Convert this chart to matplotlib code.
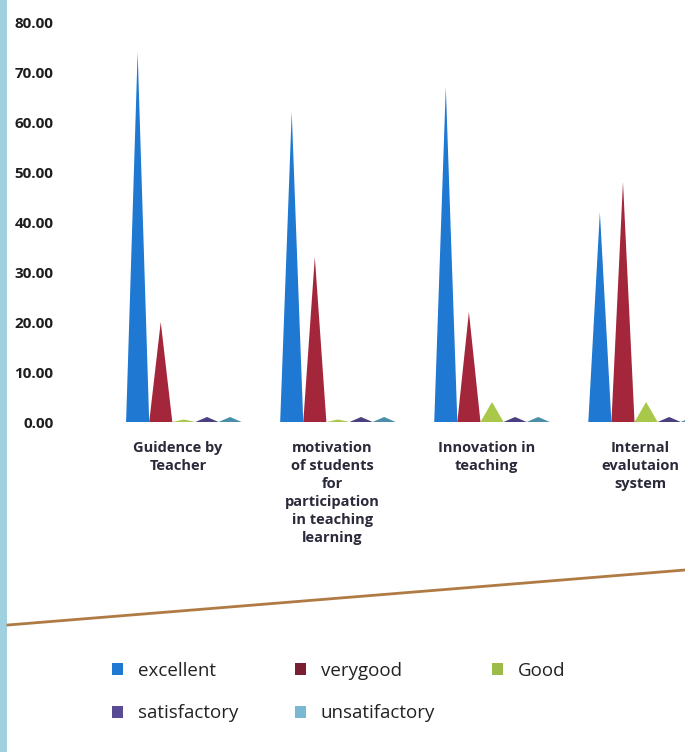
import matplotlib
matplotlib.use("Agg")
import matplotlib.pyplot as plt
from matplotlib.patches import Rectangle, Patch
from matplotlib.lines import Line2D

categories = ["Guidence by\nTeacher",
              "motivation\nof students\nfor\nparticipation\nin teaching\nlearning",
              "Innovation in\nteaching",
              "Internal\nevalutaion\nsystem"]
series = ["excellent", "verygood", "Good", "satisfactory", "unsatifactory"]
excellent = [74.0, 62.0, 67.0, 42.0]
verygood = [20.0, 33.0, 22.0, 48.0]
good = [0.5, 0.5, 4.0, 4.0]
satisfactory = [1.0, 1.0, 1.0, 1.0]
unsatifactory = [1.0, 1.0, 1.0, 1.0]
values = [excellent, verygood, good, satisfactory, unsatifactory]
colors = ["#1f78d1", "#a3263a", "#a9c84a", "#4a3f80", "#4a8fa8"]
legend_colors = ["#1f78d1", "#7a1f33", "#9dbb4a", "#5a4a92", "#78b8d0"]
yticks = [0, 10, 20, 30, 40, 50, 60, 70, 80]

plt.rcParams['font.family'] = ['Open Sans', 'DejaVu Sans']

fig = plt.figure(figsize=(6.85, 7.52), dpi=100)
fig.patch.set_facecolor("white")
W, H = 685, 752
ax = fig.add_axes([120 / W, 1 - 422 / H, (685 - 120) / W, (422 - 22) / H])
ax.set_facecolor("none")

step = 0.15
half = 0.075
for i, (name, vals, col) in enumerate(zip(series, values, colors)):
    for g, v in enumerate(vals):
        xc = g + (i - 1.75) * step
        ax.fill([xc - half, xc, xc + half], [0, v, 0], color=col, lw=0)

ax.set_xlim(-0.377, 3.29)
ax.set_ylim(0, 80)
ax.set_yticks(yticks)
ax.set_yticklabels([f"{t:.2f}" for t in yticks], fontsize=11,
                   fontweight="bold", color="#1e1e1e")
ax.set_xticks(range(len(categories)))
ax.set_xticklabels(categories, fontsize=10.5, fontweight="bold",
                   color="#2a2a3a", linespacing=1.35)
ax.tick_params(axis="both", length=0)
ax.tick_params(axis="x", pad=14)
ax.tick_params(axis="y", pad=48)
for s in ax.spines.values():
    s.set_visible(False)

# photo edge decorations
fig.add_artist(Rectangle((0, 0), 7 / W, 1, transform=fig.transFigure,
                         color="#9fd0e0", lw=0))
fig.add_artist(Line2D([8 / W, 1], [1 - 625 / H, 1 - 570 / H],
                      transform=fig.transFigure, color="#b07a45", lw=2))

handles = [Patch(facecolor=c, label=s) for s, c in zip(series, legend_colors)]
order = [0, 3, 1, 4, 2]
fig.legend(handles=[handles[k] for k in order], loc="upper left",
           bbox_to_anchor=(95 / W, 1 - 645 / H),
           ncol=3, frameon=False, fontsize=13.5, handlelength=0.6,
           handleheight=0.6, columnspacing=3.0, labelspacing=1.3,
           labelcolor="#222222")

fig.savefig("out.png", dpi=100, facecolor="white")
